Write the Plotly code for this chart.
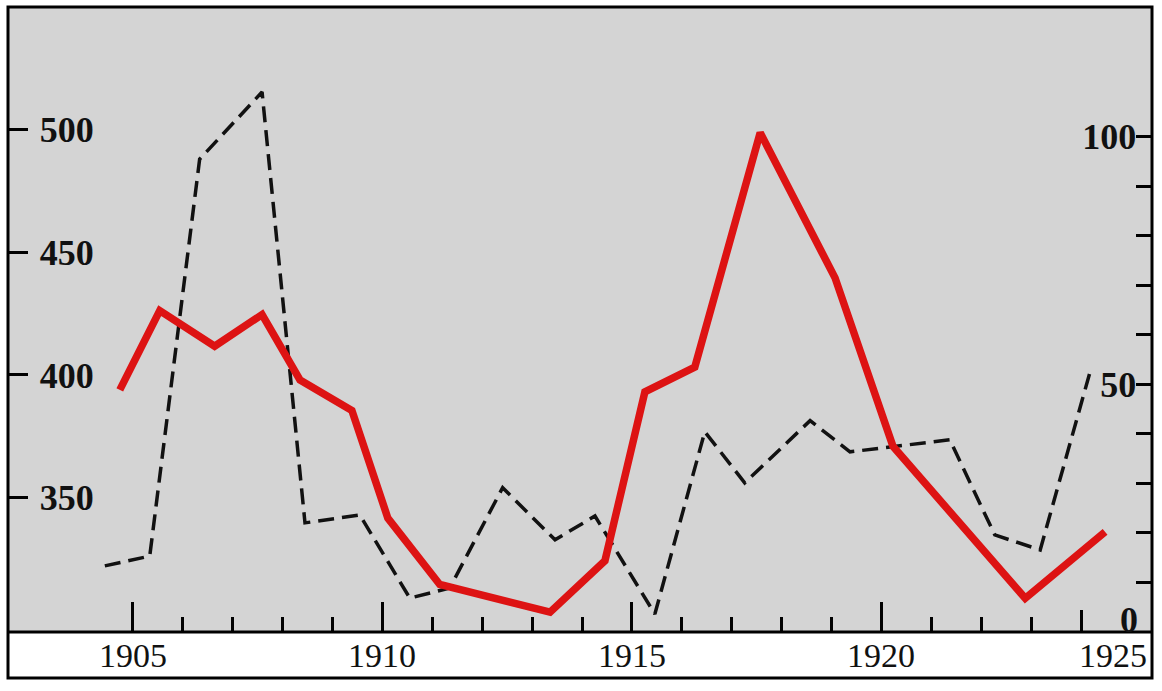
import plotly.graph_objects as go

# ---- data ----
red_years = [1904.74, 1905.54, 1906.64, 1907.59, 1908.35, 1909.39, 1910.11, 1911.15,
             1913.36, 1914.46, 1915.26, 1916.26, 1917.57, 1919.07, 1920.23, 1922.88, 1924.48]
red_values = [48.9, 64.9, 57.7, 64.1, 50.9, 44.7, 23.0, 9.6,
              4.0, 14.4, 48.5, 53.5, 100.8, 71.5, 37.5, 6.8, 20.2]

dash_years = [1904.44, 1905.34, 1906.34, 1907.59, 1908.45, 1909.55, 1910.55, 1911.35,
              1912.41, 1913.46, 1914.26, 1915.46, 1916.46, 1917.26, 1918.57, 1919.37,
              1921.37, 1922.27, 1923.18, 1924.18]
dash_values = [322.3, 326.3, 487.8, 515.1, 339.8, 343.0, 309.2, 313.3,
               354.1, 332.9, 342.6, 302.7, 376.9, 356.1, 381.4, 368.7,
               373.6, 334.9, 328.8, 401.3]

left_ticks = [350, 400, 450, 500]
right_ticks = [0, 10, 20, 30, 40, 50, 60, 70, 80, 90, 100]
right_labels = ["", "", "", "", "", "50", "", "", "", "", "100"]
major_years = [1905, 1910, 1915, 1920]
minor_years = [1904, 1906, 1907, 1908, 1909, 1911, 1912, 1913, 1914,
               1916, 1917, 1918, 1919, 1921, 1922, 1923]
mid_years = [1924]
year_labels = ["1905", "1910", "1915", "1920", "1925"]
year_label_pos = [1905, 1910, 1915, 1920, 1925]

W, H = 1162, 691
ML, MR, MT, MB = 8, 10, 7, 59
plot_h = H - MT - MB

serif = "Liberation Serif, Times New Roman, serif"

fig = go.Figure()
fig.add_trace(go.Scatter(x=dash_years, y=dash_values, mode="lines",
                         line=dict(color="#111111", width=3.5, dash="16px,8px"),
                         yaxis="y", xaxis="x", showlegend=False, hoverinfo="skip"))
fig.add_trace(go.Scatter(x=red_years, y=red_values, mode="lines",
                         line=dict(color="#dd1313", width=7.5),
                         yaxis="y2", xaxis="x", showlegend=False, hoverinfo="skip"))
# invisible trace to render the medium-tick overlay axis
fig.add_trace(go.Scatter(x=[None], y=[None], xaxis="x2", yaxis="y",
                         showlegend=False, hoverinfo="skip"))

xr = [1902.5, 1925.42]
fig.update_layout(
    width=W, height=H,
    margin=dict(l=ML, r=MR, t=MT, b=MB),
    paper_bgcolor="white",
    plot_bgcolor="#d4d4d4",
    xaxis=dict(range=xr, showgrid=False, zeroline=False, showline=False,
               tickvals=major_years, ticks="inside", ticklen=30, tickwidth=3,
               tickcolor="black", showticklabels=False,
               minor=dict(tickvals=minor_years, ticks="inside", ticklen=15,
                          tickwidth=3, tickcolor="black", showgrid=False)),
    xaxis2=dict(range=xr, overlaying="x", side="bottom", showgrid=False,
                zeroline=False, showline=False, tickvals=mid_years,
                ticks="inside", ticklen=22, tickwidth=3, tickcolor="black",
                showticklabels=False),
    yaxis=dict(range=[295.4, 549.7], showgrid=False, zeroline=False, showline=False,
               tickvals=left_ticks, ticks="inside", ticklen=20, tickwidth=3,
               tickcolor="black", ticklabelposition="inside", ticklabelstandoff=16,
               tickfont=dict(family=serif, size=36, color="#111111", weight="bold")),
    yaxis2=dict(range=[0, 126.2], overlaying="y", side="right", showgrid=False,
                zeroline=False, showline=False, tickvals=right_ticks,
                ticktext=right_labels, ticks="inside", ticklen=16, tickwidth=3,
                tickcolor="black", ticklabelposition="inside", ticklabelstandoff=4,
                tickfont=dict(family=serif, size=36, color="#111111", weight="bold")),
)

strip_bottom = -(678 - (H - MB)) / plot_h
fig.add_shape(type="rect", xref="paper", yref="paper", x0=0, x1=1, y0=strip_bottom, y1=1,
              line=dict(color="black", width=3), fillcolor="rgba(0,0,0,0)", layer="above")
fig.add_shape(type="line", xref="paper", yref="paper", x0=0, x1=1, y0=0, y1=0,
              line=dict(color="black", width=3), layer="above")

for lab, pos in zip(year_labels, year_label_pos):
    fig.add_annotation(x=pos, y=strip_bottom / 2, xref="x", yref="paper",
                       text=lab, showarrow=False, xanchor="center", yanchor="middle",
                       xshift=-18 if pos == 1925 else 0,
                       font=dict(family=serif, size=34, color="#111111"))

# bottom label of the right scale
fig.add_annotation(x=1, y=2.4, xref="paper", yref="y2", text="0", showarrow=False,
                   xanchor="right", yanchor="middle", xshift=-12,
                   font=dict(family=serif, size=36, color="#111111", weight="bold"))

fig.write_html("out.html", config={"displayModeBar": False},
               post_script="document.body.style.margin='0';document.body.style.padding='0';")
